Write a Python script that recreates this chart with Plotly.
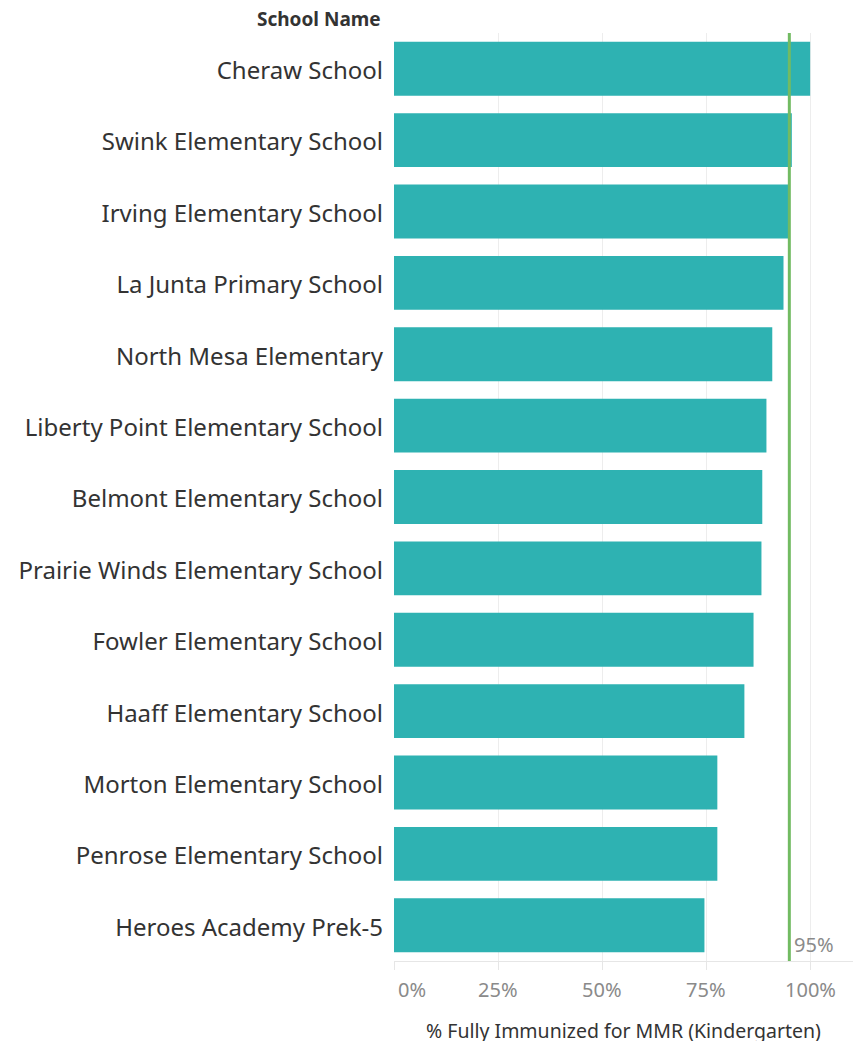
import plotly.graph_objects as go

schools = [
    "Cheraw School",
    "Swink Elementary School",
    "Irving Elementary School",
    "La Junta Primary School",
    "North Mesa Elementary",
    "Liberty Point Elementary School",
    "Belmont Elementary School",
    "Prairie Winds Elementary School",
    "Fowler Elementary School",
    "Haaff Elementary School",
    "Morton Elementary School",
    "Penrose Elementary School",
    "Heroes Academy Prek-5",
]
pct_immunized = [100.0, 95.6, 94.8, 93.6, 90.9, 89.5, 88.5, 88.3, 86.4, 84.2, 77.7, 77.7, 74.6]
target = 95
tick_vals = [0, 25, 50, 75, 100]
tick_text = ["0%", "25%", "50%", "75%", "100%"]

FONT = "Noto Sans"
BAR = "#2eb2b2"
GREEN = "#72bb62"
GREY = "#8a8a8a"

fig = go.Figure()
fig.add_trace(go.Bar(
    x=pct_immunized, y=schools, orientation="h",
    marker=dict(color=BAR, line=dict(width=0)),
    hoverinfo="skip",
))

fig.add_shape(type="line", xref="x", yref="paper", x0=target, x1=target, y0=0, y1=1,
              line=dict(color=GREEN, width=3), layer="above")

annotations = []
for v, t in zip(tick_vals, tick_text):
    annotations.append(dict(
        x=v, y=0, xref="x", yref="paper", text=t, showarrow=False,
        xanchor="left" if v == 0 else "center", yanchor="middle", yshift=-28.5,
        xshift=2 if v == 0 else 0,
        font=dict(family=FONT, size=20, color=GREY),
    ))
annotations.append(dict(
    x=target, y=0, xref="x", yref="paper", text=f"{target}%", showarrow=False,
    xanchor="left", yanchor="middle", xshift=3, yshift=17,
    font=dict(family=FONT, size=20, color=GREY),
))
annotations.append(dict(
    x=0.5, y=0, xref="paper", yref="paper",
    text="% Fully Immunized for MMR (Kindergarten)", showarrow=False,
    xanchor="center", yanchor="middle", yshift=-69, height=22,
    font=dict(family=FONT, size=19.5, color="#333333"),
))
annotations.append(dict(
    x=0, y=1, xref="paper", yref="paper", text="<b>School Name</b>", showarrow=False,
    xanchor="right", yanchor="middle", xshift=-11, yshift=14,
    font=dict(family=FONT, size=19, color="#333333"),
))

fig.update_layout(
    width=858, height=1042,
    margin=dict(l=393.5, r=5.3, t=33, b=81),
    paper_bgcolor="white", plot_bgcolor="white",
    showlegend=False,
    bargap=0.245,
    annotations=annotations,
    font=dict(family=FONT, color="#222222"),
)
fig.update_xaxes(
    range=[0, 110.3], tickvals=tick_vals, showticklabels=False,
    showgrid=True, gridcolor="#ededed", gridwidth=1,
    zeroline=False, showline=True, linecolor="#e6e6e6", linewidth=1,
    ticks="outside", ticklen=8, tickcolor="#e6e6e6",
    fixedrange=True, automargin=False,
)
fig.update_yaxes(
    categoryorder="array", categoryarray=schools, autorange="reversed",
    showgrid=False, zeroline=False, showline=False, ticks="",
    ticklabelstandoff=10, ticklabelshift=-2,
    tickfont=dict(family=FONT, size=24, color="#333333"),
    fixedrange=True, automargin=False, domain=[0, 1],
)

fig.write_html(
    "out.html",
    config={"displayModeBar": False},
    post_script="document.body.style.margin='0';document.body.style.overflow='hidden';",
)
